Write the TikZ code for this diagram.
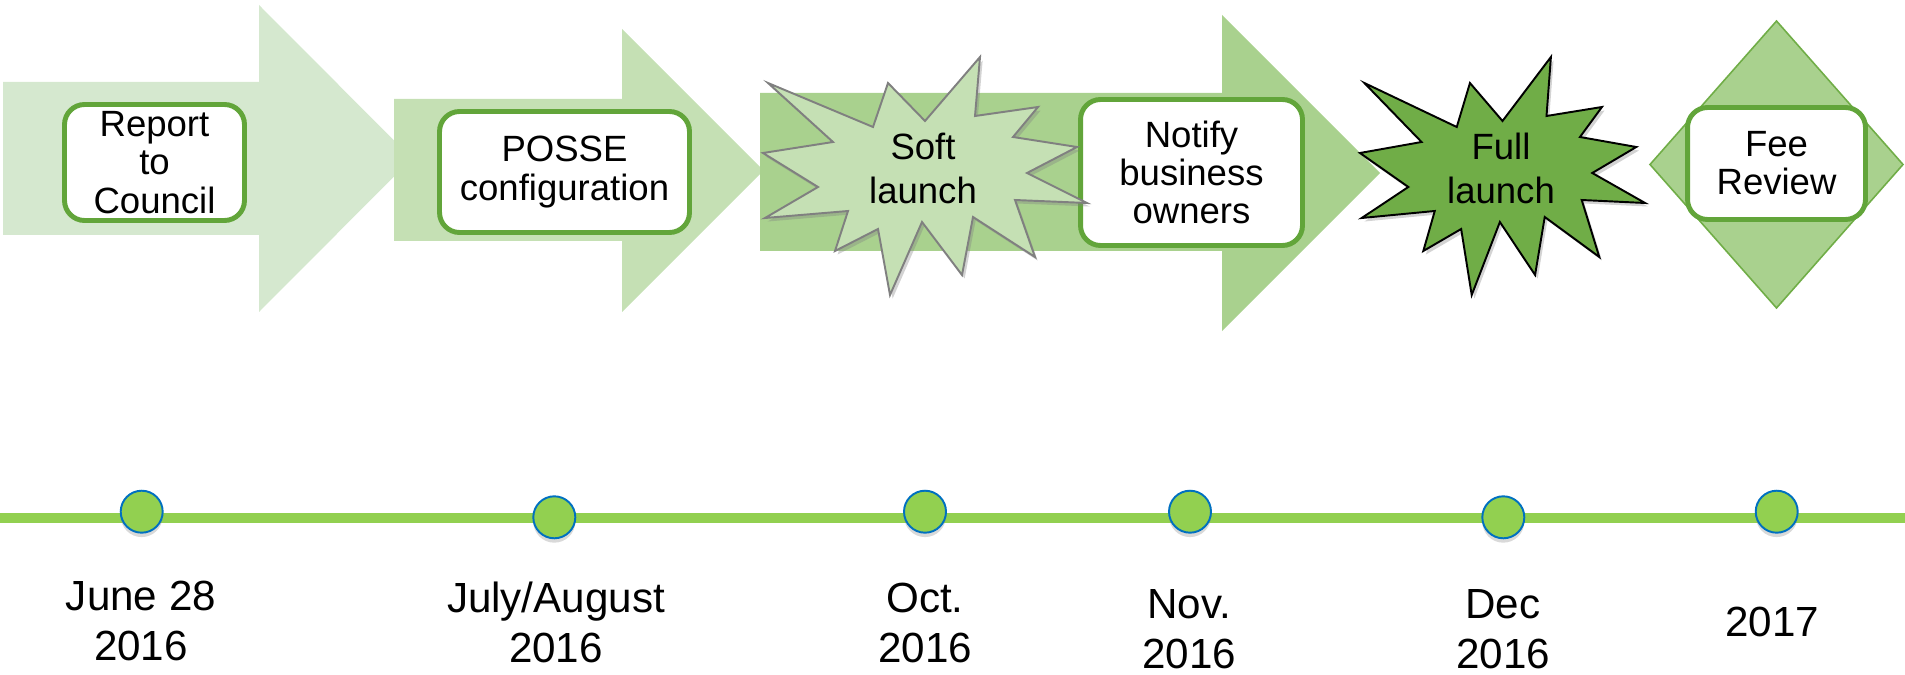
\documentclass[tikz,border=0pt]{standalone}
\usepackage{fontspec}
\setmainfont{Liberation Sans}
\usetikzlibrary{shadows}

\definecolor{arrowone}{RGB}{213,232,207}
\definecolor{arrowtwo}{RGB}{197,224,180}
\definecolor{arrowthree}{RGB}{169,209,142}
\definecolor{boxgreen}{RGB}{98,165,58}
\definecolor{fullgreen}{RGB}{112,173,71}
\definecolor{linegreen}{RGB}{146,208,80}
\definecolor{dotblue}{RGB}{0,112,192}

% points of the starburst, around its centre
\def\burstpath{(-157,-93) -- (-52,-49) -- (-37,-93) -- (0,-55) -- (55,-119)
  -- (50,-60) -- (113,-69) -- (88,-39) -- (152,-29) -- (102,-3) -- (162,27)
  -- (90,24) -- (110,81) -- (48,41) -- (37,99) -- (-3,46) -- (-35,119)
  -- (-47,53) -- (-90,75) -- (-77,35) -- (-160,42) -- (-107,11) -- (-162,-23)
  -- (-92,-34) -- cycle}

\tikzset{
  stepbox/.style={draw=boxgreen, line width=2.8pt, fill=white,
    rounded corners=0.4cm, align=center, inner sep=0pt,
    font=\fontsize{20.8}{21.7}\selectfont},
  burst/.style={line width=1.1pt, line join=miter,
    drop shadow={shadow xshift=1.5pt, shadow yshift=-2pt, opacity=0.35}},
  bursttext/.style={align=center, inner sep=0pt,
    font=\fontsize{20.8}{25.5}\selectfont},
  milestone/.style={circle, fill=linegreen, draw=dotblue, line width=1.1pt,
    minimum size=0.84cm, inner sep=0pt,
    drop shadow={shadow xshift=0pt, shadow yshift=-2.5pt, opacity=0.3}},
  datelbl/.style={align=center, inner sep=0pt,
    font=\fontsize{24}{28.4}\selectfont},
}

\begin{document}
\begin{tikzpicture}[x=0.02cm, y=-0.02cm]
  \useasboundingbox (0,0) rectangle (1905,675);

  % first arrow
  \fill[arrowone] (3,82) -- (259,82) -- (259,5) -- (412,158.5) -- (259,312)
    -- (259,235) -- (3,235) -- cycle;
  \node[stepbox, minimum width=3.6cm, minimum height=2.32cm] (report)
    at (154.5,162.5) {Report\\to\\Council};

  % second arrow
  \fill[arrowtwo] (394,99) -- (622,99) -- (622,29) -- (763.5,170.5) -- (622,312)
    -- (622,241) -- (394,241) -- cycle;
  \node[stepbox, minimum width=5cm, minimum height=2.42cm] (posse)
    at (564.5,172) {POSSE\\configuration};

  % third arrow
  \fill[arrowthree] (760,93) -- (1222,93) -- (1222,15) -- (1380,173) -- (1222,331)
    -- (1222,251) -- (760,251) -- cycle;
  \node[stepbox, minimum width=4.44cm, minimum height=2.92cm] (notify)
    at (1191.5,172.5) {Notify\\business\\owners};

  % the two launches
  \begin{scope}[shift={(925,176)}]
    \draw[burst, draw=black!50, fill=arrowtwo] \burstpath;
  \end{scope}
  \node[bursttext] (soft) at (923,168.5) {Soft\\launch};
  \begin{scope}[shift={(1502.5,176)}, xscale=0.88]
    \draw[burst, draw=black, fill=fullgreen] \burstpath;
  \end{scope}
  \node[bursttext] (full) at (1501,168.5) {Full\\launch};

  % review
  \fill[arrowthree, draw=fullgreen, line width=0.9pt] (1776.5,21) -- (1903,164.5)
    -- (1776.5,308) -- (1650,164.5) -- cycle;
  \node[stepbox, minimum width=3.56cm, minimum height=2.24cm] (fee)
    at (1776.5,163.5) {Fee\\Review};

  % timeline
  \coordinate (tl-start) at (0,517.5);
  \coordinate (tl-end) at (1905,517.5);
  \draw[linegreen, line width=0.2cm] (tl-start) -- (tl-end);

  \foreach \i/\x/\y in {1/141.7/511.7, 2/554.3/517.3, 3/925/511.7,
                        4/1190/511.7, 5/1503.3/517.3, 6/1776.7/511.7}
    \node[milestone] (m\i) at (\x,\y) {};

  % anchor base is the last line
  \foreach \i/\x/\y/\txt in {1/141/660/{June 28\\2016},
                             2/556/662/{July/August\\2016},
                             3/925/662/{Oct.\\2016},
                             4/1189/668/{Nov.\\2016},
                             5/1503/668/{Dec\\2016},
                             6/1772/636/{2017}}
    \node[datelbl, anchor=base] (d\i) at (\x,\y) {\txt};
\end{tikzpicture}
\end{document}
